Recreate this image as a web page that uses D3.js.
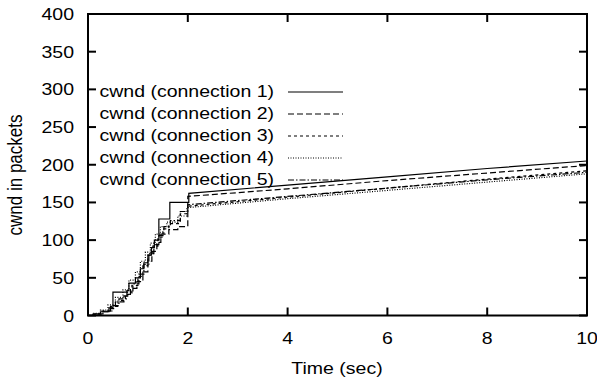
<!DOCTYPE html>
<html>
<head>
<meta charset="utf-8">
<script src="https://cdn.jsdelivr.net/npm/d3@7"></script>
<style>
  body { margin: 0; background: #fff; }
  text { font-family: "Liberation Sans", Arial, sans-serif; fill: #000; }
</style>
</head>
<body>
<svg id="chart" width="597" height="381"></svg>
<script>
// Axis ticks
const xTicks = [0, 2, 4, 6, 8, 10];
const yTicks = [0, 50, 100, 150, 200, 250, 300, 350, 400];

// Legend labels and dash styles
const seriesNames = ["cwnd (connection 1)", "cwnd (connection 2)", "cwnd (connection 3)",
                     "cwnd (connection 4)", "cwnd (connection 5)"];
const dashes = ["none", "6,3", "3,3", "1,1.5", "6,2,1.5,2"];

// Slow-start ramp: step points [time, cwnd]
const ramp1 = [[0,0],[0.1,2],[0.25,5],[0.42,10],[0.5,31],[0.78,33],[0.82,43],[0.95,50],[1.05,62],
               [1.12,70],[1.2,80],[1.27,90],[1.33,100],[1.42,128],[1.64,150],[2.02,162]];
const ramp2 = [[0,0],[0.15,2],[0.3,5],[0.45,9],[0.55,18],[0.72,26],[0.85,36],[0.98,45],[1.1,58],
               [1.2,72],[1.28,85],[1.38,97],[1.46,108],[1.62,114],[1.8,118],[2.0,158]];
const ramp3 = [[0,0],[0.12,2],[0.28,6],[0.45,12],[0.6,20],[0.75,28],[0.88,40],[1.0,52],[1.1,66],
               [1.2,80],[1.3,92],[1.4,104],[1.5,115],[1.62,122],[1.85,135],[2.0,145]];
const ramp4 = [[0,0],[0.1,3],[0.25,7],[0.4,14],[0.55,24],[0.7,34],[0.82,47],[0.95,58],[1.05,72],
               [1.15,84],[1.25,96],[1.35,108],[1.45,118],[1.58,124],[1.8,132],[1.98,143]];
const ramp5 = [[0,0],[0.12,2],[0.3,6],[0.48,13],[0.62,22],[0.78,31],[0.9,42],[1.02,55],[1.12,68],
               [1.22,82],[1.32,94],[1.42,106],[1.52,118],[1.65,126],[1.85,138],[2.0,147]];

// Congestion-avoidance part: [time, cwnd]
const tail1 = [[2.02,162],[4,173],[6,184],[8,195],[10,205]];
const tail2 = [[2.0,158],[4,168],[6,179],[8,189],[10,199]];
const tail3 = [[2.0,145],[4,157],[6,169],[8,181],[10,192]];
const tail4 = [[1.98,143],[4,155],[6,166],[8,177],[10,188]];
const tail5 = [[2.0,147],[4,158],[6,169],[8,180],[10,190]];

const ramps = [ramp1, ramp2, ramp3, ramp4, ramp5];
const tails = [tail1, tail2, tail3, tail4, tail5];

const svg = d3.select("#chart");
const plotL = 88, plotR = 587, plotT = 14, plotB = 315.5;
const sx = 1.22; // glyphs are wider than tall in the reference

const x = d3.scaleLinear().domain([0, 10]).range([plotL, plotR]);
const y = d3.scaleLinear().domain([0, 400]).range([plotB, plotT]);

// Series lines
const line = d3.line().x(d => x(d[0])).y(d => y(d[1]));
ramps.forEach((r, i) => {
    const pts = [];
    r.forEach((p, j) => {
        if (j > 0) pts.push([p[0], r[j - 1][1]]);
        pts.push(p);
    });
    tails[i].slice(1).forEach(p => pts.push(p));
    svg.append("path")
        .attr("d", line(pts))
        .attr("fill", "none")
        .attr("stroke", "#000")
        .attr("stroke-width", 1.2)
        .attr("stroke-dasharray", dashes[i]);
});

// Ticks on all four sides, pointing inward
const tl = 8;
xTicks.forEach(t => {
    svg.append("line").attr("x1", x(t)).attr("x2", x(t)).attr("y1", plotB).attr("y2", plotB - tl)
        .attr("stroke", "#000").attr("stroke-width", 2);
    svg.append("line").attr("x1", x(t)).attr("x2", x(t)).attr("y1", plotT).attr("y2", plotT + tl)
        .attr("stroke", "#000").attr("stroke-width", 2);
    svg.append("text")
        .attr("transform", `translate(${x(t)},${plotB + 28}) scale(${sx},1)`)
        .attr("text-anchor", "middle")
        .style("font-size", "16px")
        .text(t);
});
yTicks.forEach(t => {
    svg.append("line").attr("x1", plotL).attr("x2", plotL + tl).attr("y1", y(t)).attr("y2", y(t))
        .attr("stroke", "#000").attr("stroke-width", 2);
    svg.append("line").attr("x1", plotR).attr("x2", plotR - tl).attr("y1", y(t)).attr("y2", y(t))
        .attr("stroke", "#000").attr("stroke-width", 2);
    svg.append("text")
        .attr("transform", `translate(74,${y(t) + 6}) scale(${sx},1)`)
        .attr("text-anchor", "end")
        .style("font-size", "16px")
        .text(t);
});

// Frame
svg.append("rect")
    .attr("x", plotL).attr("y", plotT)
    .attr("width", plotR - plotL).attr("height", plotB - plotT)
    .attr("fill", "none").attr("stroke", "#000").attr("stroke-width", 2);

// Legend
seriesNames.forEach((name, i) => {
    const by = 97 + i * 22;
    svg.append("text")
        .attr("transform", `translate(274,${by}) scale(${sx},1)`)
        .attr("text-anchor", "end")
        .style("font-size", "16px")
        .text(name);
    svg.append("line")
        .attr("x1", 288).attr("x2", 343)
        .attr("y1", by - 5).attr("y2", by - 5)
        .attr("stroke", "#000").attr("stroke-width", 1.2)
        .attr("stroke-dasharray", dashes[i]);
});

// Axis labels
svg.append("text")
    .attr("transform", `translate(337,374) scale(${sx},1)`)
    .attr("text-anchor", "middle")
    .style("font-size", "16px")
    .text("Time (sec)");

svg.append("text")
    .attr("transform", "translate(22,175) rotate(-90) scale(1,1.22)")
    .attr("text-anchor", "middle")
    .style("font-size", "17px")
    .text("cwnd in packets");
</script>
</body>
</html>
